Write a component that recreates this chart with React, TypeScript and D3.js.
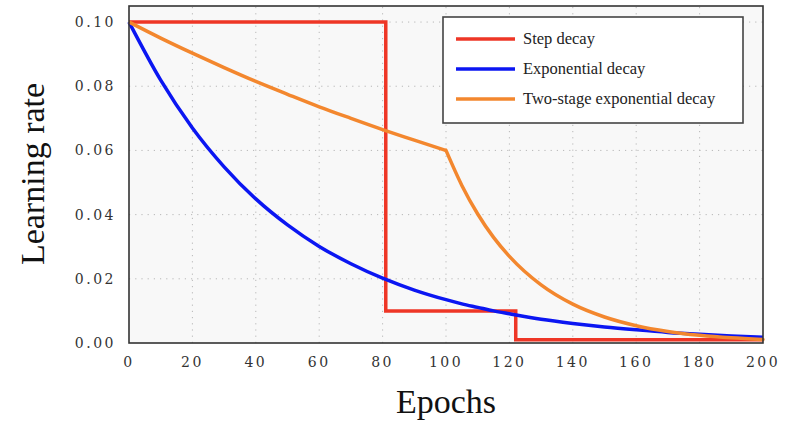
import * as d3 from "d3";
import { useEffect, useRef } from "react";

// Значения
const epochs = [0, 10, 20, 30, 40, 50, 60, 70, 80, 90, 100, 105, 110, 115, 120, 130, 140, 150, 160, 170, 180, 190, 200];
const expDecay = [0.1, 0.0819, 0.067, 0.0549, 0.0449, 0.0368, 0.0301, 0.0247, 0.0202, 0.0165, 0.0135, 0.0122, 0.0111, 0.01, 0.0091, 0.0074, 0.0061, 0.005, 0.0041, 0.0033, 0.0027, 0.0022, 0.0018];
const twoStage = [0.1, 0.095, 0.0903, 0.0858, 0.0815, 0.0775, 0.0736, 0.07, 0.0665, 0.0632, 0.06, 0.0491, 0.0402, 0.0329, 0.027, 0.0181, 0.0121, 0.0081, 0.0054, 0.0036, 0.0024, 0.0016, 0.0011];
const stepX = [0, 81, 81, 122, 122, 200];
const stepY = [0.1, 0.1, 0.01, 0.01, 0.001, 0.001];

const xTicks = [0, 20, 40, 60, 80, 100, 120, 140, 160, 180, 200];
const yTicks = [0, 0.02, 0.04, 0.06, 0.08, 0.1];
const legendNames = ["Step decay", "Exponential decay", "Two-stage exponential decay"];
const colors = ["#ee3626", "#0b16f2", "#f3872e"];

const W = 790;
const H = 422;

export default function App() {
  const ref = useRef<SVGSVGElement>(null);

  useEffect(() => {
    document.body.style.margin = "0";
    const svg = d3.select(ref.current);
    svg.selectAll("*").remove();

    const x = d3.scaleLinear().domain([0, 200]).range([129, 763]);
    const y = d3.scaleLinear().domain([0, 0.105]).range([343, 6]);

    // фон области графика
    svg.append("rect")
      .attr("x", x(0)).attr("y", y(0.105))
      .attr("width", x(200) - x(0)).attr("height", y(0) - y(0.105))
      .attr("fill", "#f8f8f8");

    // сетка
    svg.append("g").selectAll("line")
      .data(xTicks.slice(1, -1))
      .join("line")
      .attr("x1", d => x(d)).attr("x2", d => x(d))
      .attr("y1", y(0)).attr("y2", y(0.105))
      .attr("stroke", "#b8b8b8").attr("stroke-width", 1)
      .attr("stroke-dasharray", "1.2,5");
    svg.append("g").selectAll("line")
      .data(yTicks.slice(1))
      .join("line")
      .attr("x1", x(0)).attr("x2", x(200))
      .attr("y1", d => y(d)).attr("y2", d => y(d))
      .attr("stroke", "#b8b8b8").attr("stroke-width", 1)
      .attr("stroke-dasharray", "1.2,5");

    // линии
    const line = d3.line<[number, number]>()
      .x(d => x(d[0])).y(d => y(d[1]));
    const smooth = d3.line<[number, number]>()
      .x(d => x(d[0])).y(d => y(d[1]))
      .curve(d3.curveMonotoneX);

    svg.append("path")
      .datum(stepX.map((v, i) => [v, stepY[i]] as [number, number]))
      .attr("d", line)
      .attr("fill", "none").attr("stroke", colors[0]).attr("stroke-width", 3.5);
    svg.append("path")
      .datum(epochs.map((v, i) => [v, expDecay[i]] as [number, number]))
      .attr("d", smooth)
      .attr("fill", "none").attr("stroke", colors[1]).attr("stroke-width", 3.5);
    // вторая стадия: излом в 100
    const ts = epochs.map((v, i) => [v, twoStage[i]] as [number, number]);
    svg.append("path")
      .datum(ts.filter(d => d[0] <= 100))
      .attr("d", smooth)
      .attr("fill", "none").attr("stroke", colors[2]).attr("stroke-width", 3.5)
      .attr("stroke-linejoin", "round");
    svg.append("path")
      .datum(ts.filter(d => d[0] >= 100))
      .attr("d", smooth)
      .attr("fill", "none").attr("stroke", colors[2]).attr("stroke-width", 3.5)
      .attr("stroke-linecap", "round");

    // рамка
    svg.append("rect")
      .attr("x", x(0)).attr("y", y(0.105))
      .attr("width", x(200) - x(0)).attr("height", y(0) - y(0.105))
      .attr("fill", "none").attr("stroke", "#333").attr("stroke-width", 1.6);

    // подписи делений
    svg.append("g").selectAll("text")
      .data(xTicks)
      .join("text")
      .attr("x", d => x(d)).attr("y", 367)
      .attr("text-anchor", "middle")
      .attr("font-family", "DejaVu Serif").attr("font-size", 14)
      .attr("letter-spacing", 2.5).attr("fill", "#333")
      .text(d => d);
    svg.append("g").selectAll("text")
      .data(yTicks)
      .join("text")
      .attr("x", 116).attr("y", d => y(d) + 5)
      .attr("text-anchor", "end")
      .attr("font-family", "DejaVu Serif").attr("font-size", 14)
      .attr("letter-spacing", 2.5).attr("fill", "#333")
      .text(d => d3.format(".2f")(d));

    // подписи осей
    svg.append("text")
      .attr("x", (x(0) + x(200)) / 2).attr("y", 413)
      .attr("text-anchor", "middle")
      .attr("font-family", "Liberation Serif").attr("font-size", 34)
      .attr("fill", "#111")
      .text("Epochs");
    svg.append("text")
      .attr("transform", "translate(44,174) rotate(-90)")
      .attr("text-anchor", "middle")
      .attr("font-family", "Liberation Serif").attr("font-size", 34)
      .attr("fill", "#111")
      .text("Learning rate");

    // легенда
    const lg = svg.append("g");
    lg.append("rect")
      .attr("x", 443).attr("y", 17).attr("width", 300).attr("height", 106)
      .attr("fill", "#fff").attr("stroke", "#444").attr("stroke-width", 1.6);
    legendNames.forEach((name, i) => {
      const ly = 39 + i * 30;
      lg.append("line")
        .attr("x1", 456).attr("x2", 515).attr("y1", ly).attr("y2", ly)
        .attr("stroke", colors[i]).attr("stroke-width", 3.5);
      lg.append("text")
        .attr("x", 523).attr("y", ly + 5)
        .attr("font-family", "Liberation Serif").attr("font-size", 16.5)
        .attr("fill", "#222")
        .text(name);
    });
  }, []);

  return <svg ref={ref} width={W} height={H} style={{ display: "block" }}></svg>;
}
